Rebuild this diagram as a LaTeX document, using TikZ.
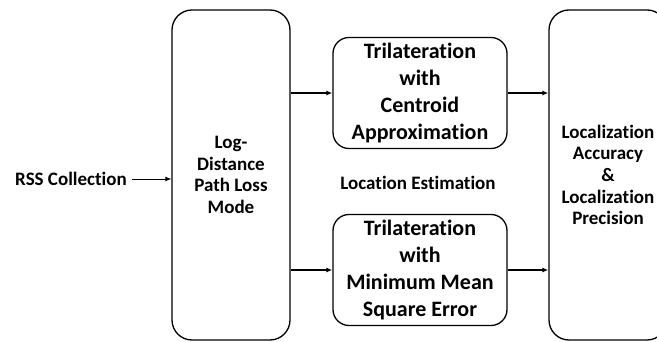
\documentclass[tikz,border=0pt]{standalone}
\usepackage{fontspec}
\setmainfont{Carlito}[Ligatures=CommonOff]
\usetikzlibrary{arrows.meta}
\begin{document}
\begin{tikzpicture}[x=1pt,y=-1pt,
  bigbox/.style={draw=black,line width=1.3pt,rounded corners=20pt,minimum width=118pt,minimum height=330pt,align=center,inner sep=0pt,font=\bfseries\fontsize{19}{21.7}\selectfont},
  midbox/.style={draw=black,line width=1.3pt,rounded corners=16pt,minimum width=174pt,minimum height=111pt,align=center,inner sep=0pt,font=\bfseries\fontsize{22}{27}\selectfont},
  lbl/.style={inner sep=0pt,align=center,font=\bfseries\fontsize{19}{22}\selectfont},
  arr/.style={line width=1.2pt,-{Latex[length=6pt,width=5pt]}}]
\clip (0,0) rectangle (657,342);
\node[bigbox] (pl) at (231,175) {Log-\\Distance\\Path Loss\\Mode};
\node[bigbox] (acc) at (608,175) {Localization\\Accuracy\\\&\\Localization\\Precision};
\node[midbox] (cen) at (420,93) {Trilateration\\with\\Centroid\\Approximation};
\node[midbox] (mmse) at (420,270) {Trilateration\\with\\Minimum Mean\\Square Error};
\node[lbl] (rss) at (71,179) {RSS Collection};
\node[lbl] (le) at (418,183) {Location Estimation};
\draw[arr,line width=0.9pt] ([xshift=5pt]rss.east) -- (rss.east -| pl.west);
\draw[arr] (cen.west -| pl.east) -- (cen.west);
\draw[arr] (mmse.west -| pl.east) -- (mmse.west);
\draw[arr] (cen.east) -- (cen.east -| acc.west);
\draw[arr] (mmse.east) -- (mmse.east -| acc.west);
\end{tikzpicture}
\end{document}
